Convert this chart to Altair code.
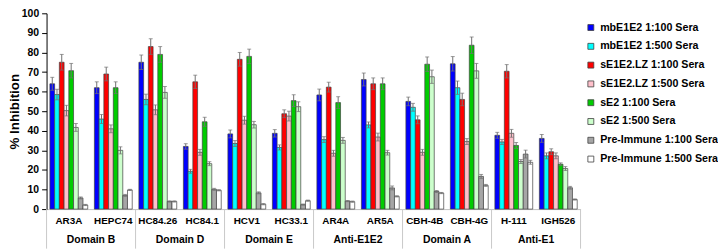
import altair as alt
import pandas as pd

categories = ["AR3A", "HEPC74", "HC84.26", "HC84.1", "HCV1", "HC33.1",
              "AR4A", "AR5A", "CBH-4B", "CBH-4G", "H-111", "IGH526"]
groups = ["Domain B", "Domain D", "Domain E", "Anti-E1E2", "Domain A", "Anti-E1"]

series = ["mbE1E2 1:100 Sera", "mbE1E2 1:500 Sera", "sE1E2.LZ 1:100 Sera",
          "sE1E2.LZ 1:500 Sera", "sE2 1:100 Sera", "sE2 1:500 Sera",
          "Pre-Immune 1:100 Sera", "Pre-Immune 1:500 Sera"]
colors = ["#0000FF", "#00FFFF", "#FF0000", "#FFC0CB", "#00CC00", "#CCFFCC",
          "#A6A6A6", "#FFFFFF"]

mb100 = [64, 62, 75, 32, 38.4, 38.7, 58.3, 66.2, 55, 74.2, 37.7, 36.1]
mb500 = [58.5, 46, 56, 19.3, 33.5, 31.5, 35.5, 43, 52, 62, 34.3, 27.2]
lz100 = [75, 69, 83, 65, 76.5, 48.7, 62.3, 64, 45.6, 56, 70.4, 29.3]
lz500 = [50.3, 41, 50.7, 29, 45.4, 47.5, 28.5, 36.8, 29, 34.5, 38.7, 27.2]
e2_100 = [70.7, 62, 79, 44.6, 78, 55.4, 54.4, 64, 74, 83.7, 32.5, 22.9]
e2_500 = [41.7, 30, 59.6, 23.2, 43.1, 52.3, 35.1, 28.8, 67.6, 70.6, 24.3, 20.7]
pre100 = [5.7, 7, 3.9, 10.1, 8.3, 2.3, 4.1, 10.8, 9, 16.7, 28.1, 10.9]
pre500 = [2.1, 9.8, 3.9, 9.6, 2.5, 4.3, 3.8, 6.5, 8.2, 12.1, 23.9, 4.9]

err_mb100 = [3.3, 3, 3.7, 1.4, 2, 1.9, 3, 3.3, 2.2, 3.7, 1.5, 2]
err_mb500 = [2.7, 2.3, 2.7, 1, 1.5, 1.3, 1.5, 1.5, 2, 3.4, 1.3, 1.5]
err_lz100 = [4, 3.5, 4, 3.4, 3.5, 2, 2.5, 3, 2, 3.2, 3.4, 1.5]
err_lz500 = [2.7, 2, 2.5, 1.5, 2, 2.5, 1.5, 2, 1.5, 1.5, 2, 1.5]
err_e2_100 = [3.7, 3, 4, 2.3, 3.7, 3, 3, 3, 3.7, 4.2, 1.5, 0.7]
err_e2_500 = [2, 1.8, 3, 1, 1.7, 2.5, 1.5, 1.2, 3.4, 3.8, 1, 1]
err_pre100 = [0.5, 0.5, 0.3, 0.5, 0.5, 0.3, 0.3, 1, 0.5, 1, 2, 0.7]
err_pre500 = [0.3, 0.3, 0.3, 0.3, 0.3, 0.3, 0.3, 0.3, 0.3, 0.5, 1, 0.3]

values = [mb100, mb500, lz100, lz500, e2_100, e2_500, pre100, pre500]
errors = [err_mb100, err_mb500, err_lz100, err_lz500, err_e2_100, err_e2_500,
          err_pre100, err_pre500]

rows = []
for s, vals, errs in zip(series, values, errors):
    for c, v, e in zip(categories, vals, errs):
        rows.append({"cat": c, "series": s, "value": v, "lo": v - e, "hi": v + e})
df = pd.DataFrame(rows)

bounds = pd.DataFrame({"pos": [2 * i for i in range(len(groups) + 1)]})
glabels = pd.DataFrame({"pos": [2 * i + 1 for i in range(len(groups))], "group": groups})

W, H = 540, 198
FONT = "Liberation Sans"

xscale = alt.Scale(paddingInner=0.15, paddingOuter=0.075)
xaxis = alt.Axis(title=None, labelAngle=0, labelFontSize=10, labelFontWeight="bold",
                 labelColor="black", domainColor="#C0C0C0", ticks=False,
                 tickSize=0, labelPadding=7, labelOverlap=False)
xenc = alt.X("cat:N", sort=categories, scale=xscale, axis=xaxis)
xoff = alt.XOffset("series:N", sort=series, scale=alt.Scale(paddingInner=0, paddingOuter=0))
yscale = alt.Scale(domain=[0, 100], nice=False, zero=True)
yaxis = alt.Axis(title="% Inhibition", values=list(range(0, 101, 10)), grid=False,
                 titleFontSize=13.5, titleFontWeight="bold", titlePadding=0,
                 labelFontSize=10.5, labelFontWeight="bold", labelColor="black",
                 labelOverlap=False, labelFlush=False,
                 tickSize=5, labelPadding=3, domainColor="black", tickColor="black",
                 titleColor="black")

base = alt.Chart(df)
bars = base.mark_bar(stroke="#404040", strokeWidth=0.7).encode(
    x=xenc, xOffset=xoff, y=alt.Y("value:Q", scale=yscale, axis=yaxis),
    color=alt.Color("series:N", sort=series,
                    scale=alt.Scale(domain=series, range=colors),
                    legend=alt.Legend(title=None, orient="none", legendX=545, legendY=9,
                                      symbolType="square", symbolSize=36,
                                      symbolStrokeColor="#404040", symbolStrokeWidth=0.8,
                                      labelFont=FONT, labelFontSize=10.8, labelFontWeight="bold",
                                      labelColor="black", labelOffset=4, rowPadding=7,
                                      labelLimit=200)),
)
whisk = base.mark_rule(color="#707070", strokeWidth=1).encode(
    x=xenc, xOffset=xoff, y=alt.Y("lo:Q", scale=yscale, axis=yaxis), y2="hi:Q")
caps_hi = base.mark_tick(color="#707070", thickness=1, size=4).encode(
    x=xenc, xOffset=xoff, y=alt.Y("hi:Q", scale=yscale, axis=yaxis))
caps_lo = base.mark_tick(color="#707070", thickness=1, size=4).encode(
    x=xenc, xOffset=xoff, y=alt.Y("lo:Q", scale=yscale, axis=yaxis))

main = alt.layer(bars, whisk, caps_hi, caps_lo)

qx = alt.X("pos:Q", scale=alt.Scale(domain=[0, 12], nice=False, zero=False), axis=None)
seps = alt.Chart(bounds).mark_rule(color="#C8C8C8", strokeWidth=1).encode(
    x=qx, y=alt.value(H), y2=alt.value(H + 40))
gtext = alt.Chart(glabels).mark_text(font=FONT, fontSize=10.5, fontWeight="bold",
                                     baseline="middle", color="black").encode(
    x=qx, y=alt.value(H + 31), text="group:N")
extras = alt.layer(seps, gtext)

chart = alt.layer(main, extras).resolve_scale(
    x="independent"
).properties(
    width=W, height=H,
    autosize=alt.AutoSizeParams(type="none"),
    padding={"left": 39, "top": 4, "right": 139, "bottom": 40},
).configure(font=FONT).configure_view(stroke=None)

chart.save("out.html", embed_options={"renderer": "svg", "actions": False})
